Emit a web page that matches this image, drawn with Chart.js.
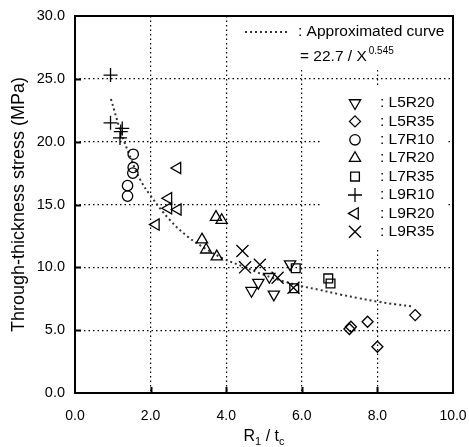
<!DOCTYPE html>
<html>
<head>
<meta charset="utf-8">
<script src="https://cdn.jsdelivr.net/npm/chart.js@4.4.0/dist/chart.umd.min.js"></script>
<style>
  html, body { margin: 0; background: #fff; }
</style>
</head>
<body>
<canvas id="chart" width="469" height="447"></canvas>
<script>
// values
const seriesNames = ['L5R20', 'L5R35', 'L7R10', 'L7R20', 'L7R35', 'L9R10', 'L9R20', 'L9R35'];

const l5r20X = [5.69, 5.14, 4.85, 4.67, 5.26];
const l5r20Y = [10.25, 9.25, 8.78, 8.14, 7.85];
const l5r35X = [9.0, 7.74, 7.30, 7.26, 8.0];
const l5r35Y = [6.2, 5.67, 5.27, 5.09, 3.68];
const l7r10X = [1.54, 1.54, 1.53, 1.39, 1.39];
const l7r10Y = [19.0, 17.95, 17.5, 16.5, 15.67];
const l7r20X = [3.73, 3.88, 3.36, 3.47, 3.75];
const l7r20Y = [14.0, 13.75, 12.2, 11.4, 10.85];
const l7r35X = [5.84, 5.80, 6.70, 6.76];
const l7r35Y = [9.92, 8.33, 9.12, 8.72];
const l9r10X = [0.94, 0.94, 1.25, 1.21, 1.19];
const l9r10Y = [25.3, 21.5, 21.05, 20.8, 20.3];
const l9r20X = [2.71, 2.47, 2.47, 2.72, 2.14];
const l9r20Y = [17.9, 15.5, 14.7, 14.6, 13.4];
const l9r35X = [4.43, 4.50, 4.89, 5.36, 5.78];
const l9r35Y = [11.3, 10.0, 10.2, 9.17, 8.38];

// approximated curve, points
const curveX = [0.95, 1.2, 1.5, 1.72, 2.0, 2.5, 3.0, 3.5, 3.92, 4.5, 5.0, 5.5, 6.0, 6.48, 7.0, 7.5, 8.02, 8.5, 8.91];
const curveY = [23.4, 20.9, 18.5, 17.0, 15.7, 13.8, 12.4, 11.4, 10.7, 10.0, 9.4, 8.9, 8.5, 8.2, 7.85, 7.55, 7.26, 7.05, 6.9];

const xTickLabels = ['0.0', '2.0', '4.0', '6.0', '8.0', '10.0'];
const yTickLabels = ['0.0', '5.0', '10.0', '15.0', '20.0', '25.0', '30.0'];

const seriesX = [l5r20X, l5r35X, l7r10X, l7r20X, l7r35X, l9r10X, l9r20X, l9r35X];
const seriesY = [l5r20Y, l5r35Y, l7r10Y, l7r20Y, l7r35Y, l9r10Y, l9r20Y, l9r35Y];

// marker look for each series
const markers = [
  { pointStyle: 'triangle', rotation: 180, radius: 6.5 },
  { pointStyle: 'rectRot', rotation: 0, radius: 5.5 },
  { pointStyle: 'circle', rotation: 0, radius: 5.2 },
  { pointStyle: 'triangle', rotation: 0, radius: 6.5 },
  { pointStyle: 'rect', rotation: 0, radius: 6.2 },
  { pointStyle: 'cross', rotation: 0, radius: 7 },
  { pointStyle: 'triangle', rotation: 270, radius: 6.5 },
  { pointStyle: 'crossRot', rotation: 0, radius: 8.5 }
];

const FONT = "'Liberation Sans', Arial, sans-serif";

const toPoints = (xs, ys) => xs.map((v, i) => ({ x: v, y: ys[i] }));

const datasets = seriesNames.map((name, i) => ({
  label: name,
  data: toPoints(seriesX[i], seriesY[i]),
  pointStyle: markers[i].pointStyle,
  rotation: markers[i].rotation,
  pointRadius: markers[i].radius,
  pointBorderWidth: 1.3,
  borderColor: '#000',
  backgroundColor: 'rgba(0,0,0,0)',
  showLine: false
}));

datasets.push({
  label: 'curve',
  data: toPoints(curveX, curveY),
  showLine: true,
  borderColor: '#333',
  borderWidth: 2,
  borderDash: [2, 3],
  pointRadius: 0,
  tension: 0.4,
  fill: false
});

const decor = {
  id: 'decor',
  beforeDatasetsDraw(chart) {
    const ctx = chart.ctx, a = chart.chartArea;
    ctx.save();
    ctx.fillStyle = '#fff';
    ctx.fillRect(230, a.top, a.right - 230, 68 - a.top);
    ctx.fillRect(320, 86, 127, 161);
    ctx.restore();
  },
  afterDraw(chart) {
    const ctx = chart.ctx, a = chart.chartArea;
    const xs = chart.scales.x, ys = chart.scales.y;
    ctx.save();
    ctx.setLineDash([]);
    ctx.strokeStyle = '#000';
    ctx.lineWidth = 2;
    ctx.strokeRect(a.left, a.top, a.right - a.left, a.bottom - a.top);

    // inward ticks
    [5, 10, 15, 20, 25].forEach(v => {
      const py = Math.round(ys.getPixelForValue(v)) + 0.5;
      ctx.beginPath();
      ctx.moveTo(a.left, py);
      ctx.lineTo(a.left + 6, py);
      ctx.stroke();
    });
    [2, 4, 6, 8].forEach(v => {
      const px = Math.round(xs.getPixelForValue(v)) + 0.5;
      ctx.beginPath();
      ctx.moveTo(px, a.bottom);
      ctx.lineTo(px, a.bottom - 6);
      ctx.stroke();
    });

    // curve legend
    ctx.fillStyle = '#000';
    ctx.textBaseline = 'middle';
    ctx.textAlign = 'left';
    ctx.strokeStyle = '#333';
    ctx.lineWidth = 2;
    ctx.setLineDash([2, 3]);
    ctx.beginPath();
    ctx.moveTo(245, 32);
    ctx.lineTo(288, 32);
    ctx.stroke();
    ctx.setLineDash([]);
    ctx.font = '15.5px ' + FONT;
    ctx.fillText(': Approximated curve', 298, 32);
    const eq = '= 22.7 / X';
    ctx.fillText(eq, 300, 57);
    const w = ctx.measureText(eq).width;
    ctx.font = '10px ' + FONT;
    ctx.fillText('0.545', 300 + w + 2, 51);

    // series legend
    ctx.font = '15.5px ' + FONT;
    ctx.strokeStyle = '#000';
    ctx.lineWidth = 1.3;
    ctx.fillStyle = 'rgba(0,0,0,0)';
    seriesNames.forEach((name, i) => {
      const py = 103 + i * 18.4;
      Chart.helpers.drawPoint(ctx, {
        pointStyle: markers[i].pointStyle,
        rotation: markers[i].rotation,
        radius: markers[i].radius,
        borderWidth: 1.3
      }, 355, py);
    });
    ctx.fillStyle = '#000';
    seriesNames.forEach((name, i) => {
      ctx.fillText(': ' + name, 380, 103 + i * 18.4);
    });

    // x axis title  R1 / tc
    const cx = (a.left + a.right) / 2;
    const base = 441;
    const parts = [['R', 16, 0], ['1', 11, 4], [' / t', 16, 0], ['c', 11, 4]];
    let total = 0;
    parts.forEach(p => { ctx.font = p[1] + 'px ' + FONT; total += ctx.measureText(p[0]).width; });
    let px = cx - total / 2;
    ctx.textBaseline = 'alphabetic';
    parts.forEach(p => {
      ctx.font = p[1] + 'px ' + FONT;
      ctx.fillText(p[0], px, base + p[2]);
      px += ctx.measureText(p[0]).width;
    });
    ctx.restore();
  }
};

const gridColor = edges => ctx => (edges.includes(ctx.tick.value) ? 'rgba(0,0,0,0)' : '#000');

new Chart(document.getElementById('chart'), {
  type: 'scatter',
  data: { datasets: datasets },
  options: {
    responsive: false,
    animation: false,
    devicePixelRatio: 1,
    layout: { padding: { top: 16, right: 16, left: 0, bottom: 0 } },
    plugins: { legend: { display: false }, tooltip: { enabled: false } },
    scales: {
      x: {
        type: 'linear',
        min: 0,
        max: 10,
        afterFit: s => { s.height = 54; s.paddingLeft = 0; s.paddingRight = 0; },
        border: { display: false, dash: [1.5, 3] },
        grid: {
          drawTicks: false,
          color: gridColor([0, 10]),
          lineWidth: 1.2
        },
        ticks: {
          stepSize: 2,
          padding: 15,
          color: '#000',
          font: { family: FONT, size: 14 },
          callback: (v) => xTickLabels[Math.round(v / 2)]
        }
      },
      y: {
        type: 'linear',
        min: 0,
        max: 30,
        afterFit: s => { s.width = 75; s.paddingTop = 0; s.paddingBottom = 0; },
        border: { display: false, dash: [1.5, 3] },
        grid: {
          drawTicks: false,
          color: gridColor([0, 30]),
          lineWidth: 1.2
        },
        ticks: {
          stepSize: 5,
          padding: 10,
          color: '#000',
          font: { family: FONT, size: 14.5 },
          callback: (v) => yTickLabels[Math.round(v / 5)]
        },
        title: {
          display: true,
          text: 'Through-thickness stress (MPa)',
          color: '#000',
          font: { family: FONT, size: 18 },
          padding: { top: 8, bottom: 0 }
        }
      }
    }
  },
  plugins: [decor]
});
</script>
</body>
</html>
